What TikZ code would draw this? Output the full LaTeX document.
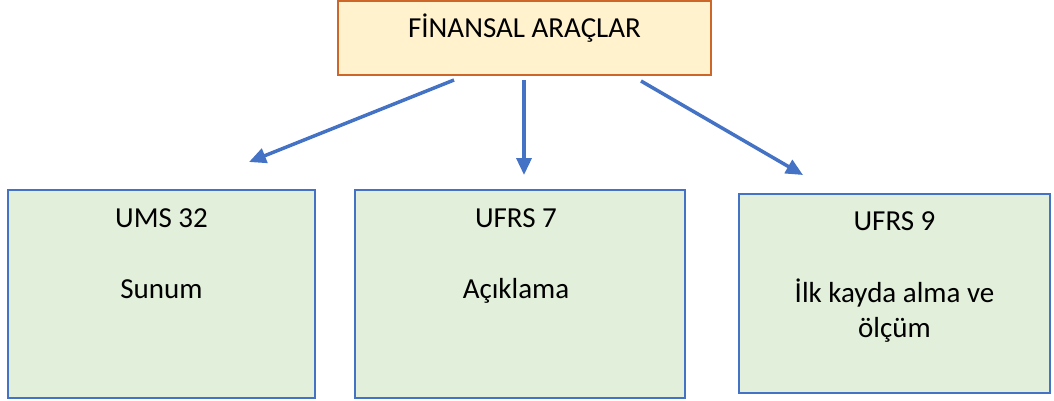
\documentclass[tikz,border=0pt]{standalone}
\usepackage{fontspec}
\setmainfont{Carlito}
\usetikzlibrary{arrows.meta, positioning}
\definecolor{headfill}{RGB}{255,242,204}
\definecolor{headline}{RGB}{204,102,41}
\definecolor{stdfill}{RGB}{226,239,218}
\definecolor{stdline}{RGB}{68,114,196}

\tikzset{
    headbox/.style={draw=headline, fill=headfill, line width=2pt, inner sep=0pt},
    stdbox/.style={draw=stdline, fill=stdfill, line width=2pt, inner sep=0pt},
    lbl/.style={font=\fontsize{29}{35}\selectfont, anchor=base},
    link/.style={draw=stdline, line width=3.5pt, -{Triangle[length=17pt,width=15pt]}}
}

\begin{document}
\begin{tikzpicture}[x=1pt, y=-1pt]
                \useasboundingbox (0,0) rectangle (1054,400);

                % top box
                \node[headbox, minimum width=373pt, minimum height=74pt] (fin) at (524.5,38) {};
                \node[lbl] (fintxt) at (524.5,37) {FİNANSAL ARAÇLAR};

                % standards
                \node[stdbox, minimum width=307pt, minimum height=208pt] (ums) at (161.5,294) {};
                \node[stdbox, minimum width=330pt, minimum height=208pt] (ufrsa) at (520,294) {};
                \node[stdbox, minimum width=311pt, minimum height=199pt] (ufrsb) at (894.5,293.5) {};

                \node[lbl] (umsnum) at (161.5,227) {UMS 32};
                \node[lbl] (umstxt) at (161.5,298) {Sunum};
                \node[lbl] (ufrsanum) at (516,227) {UFRS 7};
                \node[lbl] (ufrsatxt) at (516,298) {Açıklama};
                \node[lbl] (ufrsbnum) at (894.5,230) {UFRS 9};
                \node[lbl] (ufrsbtxta) at (894.5,302) {İlk kayda alma ve};
                \node[lbl] (ufrsbtxtb) at (894.5,337) {ölçüm};

                % arrows
                \coordinate (umstip) at (249,162);
                \coordinate (ufrsatip) at (524,175);
                \coordinate (ufrsbtip) at (803,175);
                \draw[link] ([xshift=-70.5pt,yshift=-4pt]fin.south) -- (umstip);
                \draw[link] ([xshift=-0.5pt,yshift=-4pt]fin.south) -- (ufrsatip);
                \draw[link] ([xshift=116.5pt,yshift=-5pt]fin.south) -- (ufrsbtip);
            \end{tikzpicture}
\end{document}
